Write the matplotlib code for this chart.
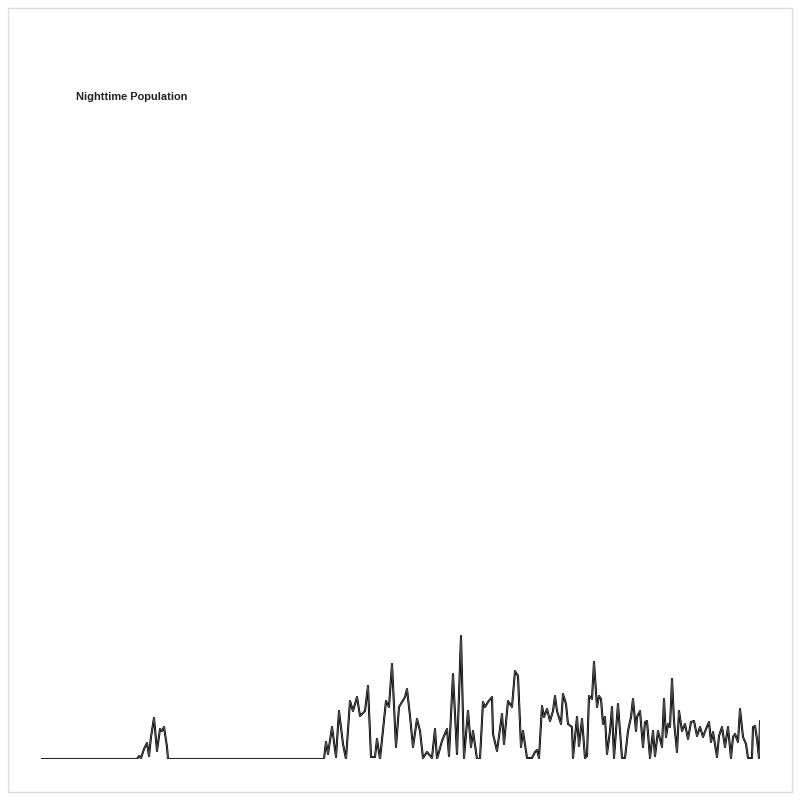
import matplotlib
matplotlib.use("Agg")
import matplotlib.pyplot as plt
from matplotlib.patches import Rectangle

title = "Nighttime Population"

# position along the transect and population intensity
position = [0, 96, 98, 100, 103, 106, 108, 110, 113, 116, 119, 121, 123, 126, 127,
            282, 283, 285, 287, 291, 295, 298, 302, 305, 309, 312, 316, 319, 324, 327, 330,
            334, 336, 339, 345, 348, 351, 355, 358, 361, 364, 366, 369, 372, 376, 379, 382,
            386, 391, 394, 396, 401, 403, 406, 408, 412, 416, 420, 423, 427, 430, 432, 436,
            439, 442, 444, 447, 451, 452, 456, 461, 463, 467, 471, 474, 477, 480, 482, 486,
            491, 494, 496, 498, 501, 503, 506, 509, 512, 514, 516, 520, 522, 525, 527, 531,
            532, 536, 538, 541, 544, 546, 548, 551, 553, 556, 558, 560, 562, 564, 566, 569,
            571, 573, 577, 581, 584, 587, 590, 592, 595, 596, 599, 602, 604, 606, 609, 612,
            614, 617, 621, 623, 625, 627, 629, 631, 633, 636, 638, 641, 644, 647, 650, 653,
            656, 659, 662, 665, 668, 670, 672, 676, 678, 681, 684, 687, 690, 692, 694, 697,
            699, 702, 705, 707, 711, 712, 714, 716, 718, 719]
population = [0, 0, 3, 1, 10, 16, 3, 22, 41, 8, 30, 28, 32, 12, 0,
              0, 0, 17, 5, 32, 2, 48, 15, 0, 58, 48, 62, 43, 48, 73, 2,
              2, 20, 0, 58, 52, 95, 12, 52, 57, 62, 70, 43, 12, 40, 28, 1,
              7, 1, 30, 0, 18, 23, 30, 3, 85, 5, 123, 1, 48, 12, 28, 0,
              0, 57, 52, 57, 62, 25, 8, 45, 15, 58, 52, 88, 83, 12, 28, 1,
              1, 7, 9, 1, 53, 42, 50, 38, 48, 63, 48, 35, 65, 55, 35, 32,
              1, 42, 13, 40, 1, 3, 63, 60, 97, 52, 63, 60, 35, 42, 5, 28,
              52, 1, 55, 1, 1, 28, 42, 60, 28, 42, 48, 12, 37, 38, 1, 28,
              3, 28, 12, 60, 22, 35, 32, 80, 38, 7, 48, 28, 35, 20, 37, 38,
              23, 32, 22, 30, 37, 17, 27, 2, 23, 32, 12, 32, 1, 22, 25, 17,
              50, 22, 15, 1, 1, 32, 33, 20, 1, 38]

W, H = 800, 800
fig = plt.figure(figsize=(8, 8), dpi=100)
fig.patch.set_facecolor("white")

# light frame
fig.add_artist(Rectangle((8 / W, 8 / H), 784 / W, 784 / H, transform=fig.transFigure,
                         fill=False, edgecolor="#dcdcdc", linewidth=1.0))

left, right = 41, 760
base, top = 759, 8
ax = fig.add_axes([left / W, (H - base) / H, (right - left) / W, (base - top) / H])
ax.set_xlim(0, right - left)
ax.set_ylim(0, base - top)
ax.axis("off")

ax.fill_between(position, population, 0, color="white", zorder=1)
ax.plot(position, population, color="#000000", linewidth=1.5, solid_joinstyle="round",
        solid_capstyle="round", zorder=2)
ax.plot(position, population, color="white", linewidth=0.25, alpha=0.8, zorder=3)

fig.text(76 / W, 1 - 96.5 / H, title, ha="left", va="center", fontsize=7.9,
         fontweight="bold", color="#222222", family=["Liberation Sans", "DejaVu Sans"])

fig.savefig("out.png", dpi=100, facecolor="white")
